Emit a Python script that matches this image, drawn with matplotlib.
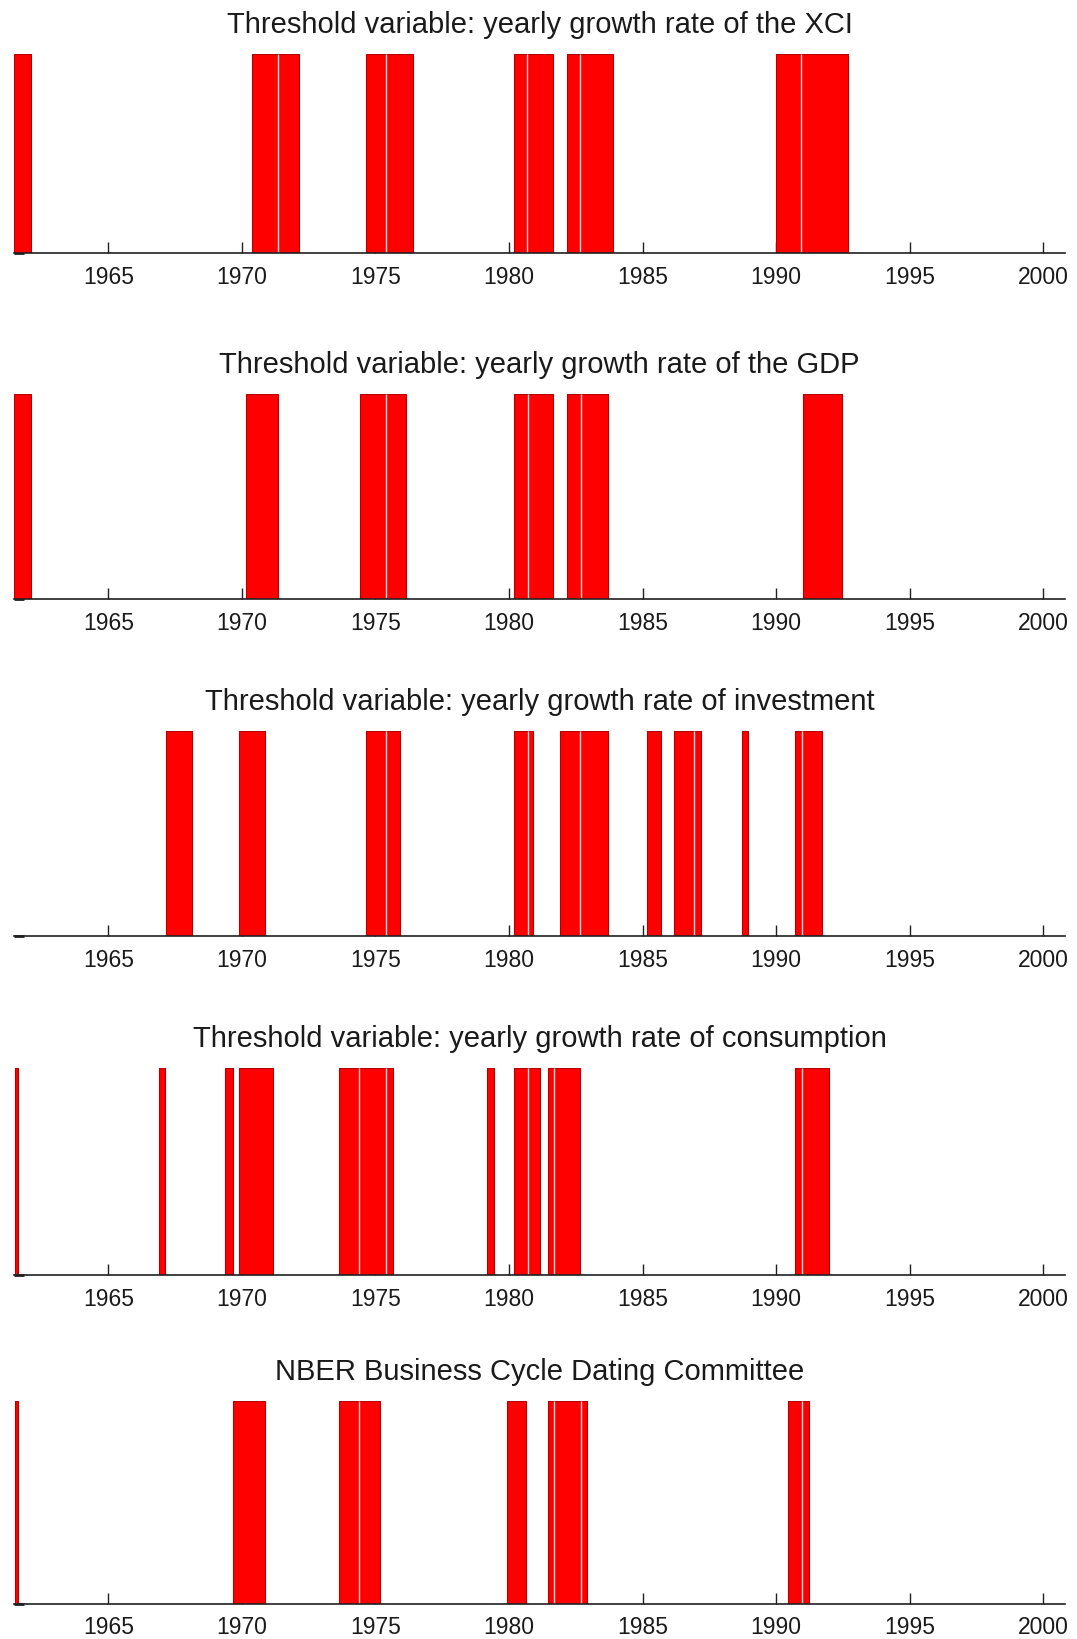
import matplotlib
matplotlib.use("Agg")
import matplotlib.pyplot as plt

plt.rcParams['font.family'] = ['Liberation Sans', 'DejaVu Sans']

titles = [
    "Threshold variable: yearly growth rate of the XCI",
    "Threshold variable: yearly growth rate of the GDP",
    "Threshold variable: yearly growth rate of investment",
    "Threshold variable: yearly growth rate of consumption",
    "NBER Business Cycle Dating Committee",
]

# regime periods (start, end) in decimal years; adjacent pieces share a boundary
xci_periods = [(1961.48, 1962.09), (1970.37, 1971.36), (1971.36, 1972.15),
               (1974.65, 1975.40), (1975.40, 1976.42), (1980.20, 1980.68),
               (1980.68, 1981.66), (1982.17, 1982.67), (1982.67, 1983.90),
               (1989.98, 1990.94), (1990.94, 1992.70)]
gdp_periods = [(1961.48, 1962.09), (1970.15, 1971.36), (1974.43, 1975.40),
               (1975.40, 1976.16), (1980.19, 1980.70), (1980.70, 1981.66),
               (1982.18, 1982.68), (1982.68, 1983.70), (1990.99, 1992.45)]
inv_periods = [(1967.16, 1968.14), (1969.90, 1970.88), (1974.64, 1975.41),
               (1975.41, 1975.90), (1980.19, 1980.70), (1980.70, 1980.90),
               (1981.91, 1982.66), (1982.66, 1983.70), (1985.17, 1985.70),
               (1986.18, 1986.94), (1986.94, 1987.18), (1988.71, 1988.94),
               (1990.72, 1990.96), (1990.96, 1991.72)]
cons_periods = [(1961.50, 1961.62), (1966.90, 1967.11), (1969.36, 1969.65),
                (1969.89, 1971.17), (1973.64, 1974.39), (1974.39, 1975.38),
                (1975.38, 1975.64), (1979.19, 1979.42), (1980.19, 1980.70),
                (1980.70, 1981.16), (1981.45, 1981.69), (1981.69, 1982.65),
                (1990.72, 1990.96), (1990.96, 1991.96)]
nber_periods = [(1961.50, 1961.62), (1969.66, 1970.88), (1973.64, 1974.39),
                (1974.39, 1975.16), (1979.92, 1980.64), (1981.45, 1981.69),
                (1981.69, 1982.68), (1982.68, 1982.91), (1990.45, 1990.95),
                (1990.95, 1991.21)]

all_periods = [xci_periods, gdp_periods, inv_periods, cons_periods, nber_periods]
xticks = [1965, 1970, 1975, 1980, 1985, 1990, 1995, 2000]
xlim = (1961.47, 2000.81)

W, H = 1077, 1639
fig = plt.figure(figsize=(W / 100, H / 100), dpi=100)

tops = [54, 394, 731, 1068, 1401]
bottoms = [253, 599, 936, 1275, 1604]
left_px, right_px = 14, 1065

text_color = '#1a1a1a'
for title, periods, top, bot in zip(titles, all_periods, tops, bottoms):
    ax = fig.add_axes([left_px / W, 1 - bot / H, (right_px - left_px) / W, (bot - top) / H])
    starts = [s for s, e in periods]
    widths = [e - s for s, e in periods]
    ax.bar(starts, [1] * len(periods), width=widths, align='edge',
           color='#ff0000', edgecolor='#b30000', linewidth=0.8, zorder=2)
    # separators between adjacent pieces
    seps = [periods[i][0] for i in range(1, len(periods))
            if abs(periods[i][0] - periods[i - 1][1]) < 1e-9]
    if seps:
        ax.vlines(seps, 0.0, 1.0, colors='#ffd8d8', linewidth=1.0, zorder=3)
    ax.set_xlim(*xlim)
    ax.set_ylim(0, 1)
    for s in ['top', 'right', 'left']:
        ax.spines[s].set_visible(False)
    ax.spines['bottom'].set_color('#202020')
    ax.spines['bottom'].set_linewidth(1.2)
    ax.spines['bottom'].set_zorder(4)
    ax.set_xticks(xticks)
    ax.set_xticklabels([str(t) for t in xticks])
    ax.set_yticks([0])
    ax.set_yticklabels([])
    ax.tick_params(axis='x', direction='in', length=8, width=1, color='#202020',
                   labelsize=16.5, pad=9, labelcolor=text_color)
    ax.tick_params(axis='y', direction='in', length=7, width=2, color='#202020')
    ax.set_facecolor('none')
    ax.set_title(title, fontsize=21, color=text_color, pad=15)

fig.savefig("out.png", dpi=100, facecolor='white')
